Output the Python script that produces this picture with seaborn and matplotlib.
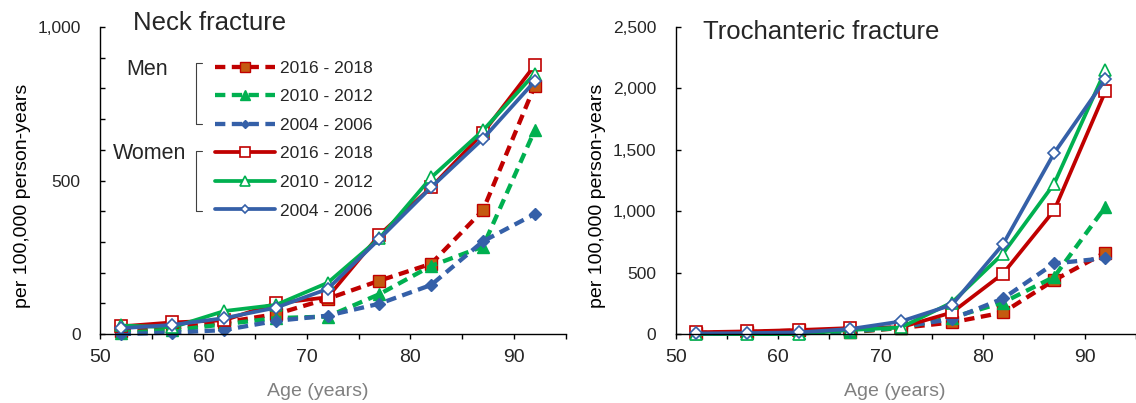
import pandas as pd
import seaborn as sns
import matplotlib.pyplot as plt
from matplotlib.ticker import MultipleLocator, FuncFormatter

ages = [52, 57, 62, 67, 72, 77, 82, 87, 92]
periods = ['2016 - 2018', '2010 - 2012', '2004 - 2006']

# Neck fracture, per 100,000 person-years
neck_men_2016 = [11, 20, 38, 65, 115, 174, 229, 403, 808]
neck_men_2010 = [5, 12, 32, 52, 57, 130, 222, 285, 663]
neck_men_2004 = [0, 5, 13, 43, 60, 99, 160, 302, 391]
neck_women_2016 = [25, 38, 45, 100, 120, 323, 478, 655, 875]
neck_women_2010 = [28, 22, 75, 95, 167, 312, 510, 663, 848]
neck_women_2004 = [19, 30, 52, 86, 147, 310, 478, 636, 823]

# Trochanteric fracture, per 100,000 person-years
troch_men_2016 = [10, 15, 30, 15, 50, 95, 176, 439, 664]
troch_men_2010 = [5, 5, 10, 20, 50, 135, 257, 466, 1035]
troch_men_2004 = [5, 10, 15, 25, 60, 122, 290, 575, 618]
troch_women_2016 = [15, 22, 33, 49, 55, 176, 493, 1008, 1975]
troch_women_2010 = [0, 0, 0, 33, 54, 257, 656, 1225, 2146]
troch_women_2004 = [5, 8, 14, 41, 103, 238, 732, 1474, 2073]

red, green, blue, orange = '#C00000', '#00B050', '#3560A8', '#C55A11'
period_colors = {'2016 - 2018': red, '2010 - 2012': green, '2004 - 2006': blue}
period_markers = {'2016 - 2018': 's', '2010 - 2012': '^', '2004 - 2006': 'D'}
men_fill = {'2016 - 2018': orange, '2010 - 2012': green, '2004 - 2006': blue}
marker_size = {'s': 9.3, '^': 9.3, 'D': 6.3}


def make_df(men, women):
    rows = []
    for sex, groups in (('Men', men), ('Women', women)):
        for period, values in zip(periods, groups):
            for age, v in zip(ages, values):
                rows.append({'Age': age, 'Rate': v, 'Sex': sex, 'Period': period})
    return pd.DataFrame(rows)


neck_df = make_df([neck_men_2016, neck_men_2010, neck_men_2004],
                  [neck_women_2016, neck_women_2010, neck_women_2004])
troch_df = make_df([troch_men_2016, troch_men_2010, troch_men_2004],
                   [troch_women_2016, troch_women_2010, troch_women_2004])

sns.set_style('ticks')
plt.rcParams['font.family'] = ['Liberation Sans', 'DejaVu Sans']

fig = plt.figure(figsize=(11.36, 4.03), dpi=100)
ax1 = fig.add_axes([0.088, 0.171, 0.410, 0.762])
ax2 = fig.add_axes([0.595, 0.171, 0.405, 0.762])


def draw_panel(ax, df):
    for sex in ('Men', 'Women'):
        for period in periods:
            sub = df[(df['Sex'] == sex) & (df['Period'] == period)]
            mk = period_markers[period]
            color = period_colors[period]
            if sex == 'Men':
                style = dict(linestyle=(0, (2.4, 1.5)), linewidth=3.1,
                             markerfacecolor=men_fill[period], markeredgecolor=color,
                             markeredgewidth=1.0)
            else:
                style = dict(linestyle='-', linewidth=2.7,
                             markerfacecolor='white', markeredgecolor=color,
                             markeredgewidth=1.2)
            sns.lineplot(data=sub, x='Age', y='Rate', ax=ax, color=color,
                         marker=mk, markersize=marker_size[mk], errorbar=None,
                         legend=False, clip_on=False, **style)

    ax.set_xlim(50, 95)
    ax.xaxis.set_major_locator(MultipleLocator(10))
    ax.xaxis.set_minor_locator(MultipleLocator(5))
    ax.yaxis.set_major_formatter(FuncFormatter(lambda v, p: f'{v:,.0f}'))
    ax.tick_params(axis='x', which='both', direction='out', length=3.6,
                   width=1, labelsize=14, pad=7, color='black')
    ax.tick_params(axis='y', which='both', direction='in', length=3.6,
                   width=1, labelsize=12.5, pad=14, color='black')
    for side in ('top', 'right'):
        ax.spines[side].set_visible(False)
    for side in ('left', 'bottom'):
        ax.spines[side].set_color('black')
        ax.spines[side].set_linewidth(1.0)
    ax.set_xlabel('Age (years)', fontsize=14, color='#808080')
    ax.set_ylabel('per 100,000 person-years', fontsize=14, color='black')


draw_panel(ax1, neck_df)
ax1.set_ylim(0, 1000)
ax1.yaxis.set_major_locator(MultipleLocator(500))
ax1.yaxis.set_minor_locator(MultipleLocator(100))
ax1.xaxis.set_label_coords(0.468, -0.158)
ax1.yaxis.set_label_coords(-0.148, 0.45)
ax1.text(0.071, 0.99, 'Neck fracture', transform=ax1.transAxes,
         fontsize=18.5, ha='left', va='baseline')

draw_panel(ax2, troch_df)
ax2.set_ylim(0, 2500)
ax2.yaxis.set_major_locator(MultipleLocator(500))
ax2.xaxis.set_label_coords(0.476, -0.158)
ax2.yaxis.set_label_coords(-0.153, 0.45)
ax2.text(0.059, 0.961, 'Trochanteric fracture', transform=ax2.transAxes,
         fontsize=18.5, ha='left', va='baseline')

# Legend with grouped brackets (neck panel)
handles = ax1.lines[:6]
ax1.legend(handles, periods * 2, loc='upper left', bbox_to_anchor=(0.247, 0.89),
           frameon=False, fontsize=12.5, handlelength=3.45, handletextpad=0.3,
           labelspacing=0.77, borderpad=0, borderaxespad=0, markerscale=0.7)

for top, bottom in ((0.883, 0.684), (0.596, 0.401)):
    ax1.plot([0.219, 0.206, 0.206, 0.219], [top, top, bottom, bottom],
             transform=ax1.transAxes, color='#404040', linewidth=0.8, clip_on=False)
ax1.text(0.101, 0.862, 'Men', transform=ax1.transAxes, fontsize=15.5,
         ha='center', va='center')
ax1.text(0.107, 0.589, 'Women', transform=ax1.transAxes, fontsize=15.5,
         ha='center', va='center')

fig.savefig('out.png', dpi=100)
